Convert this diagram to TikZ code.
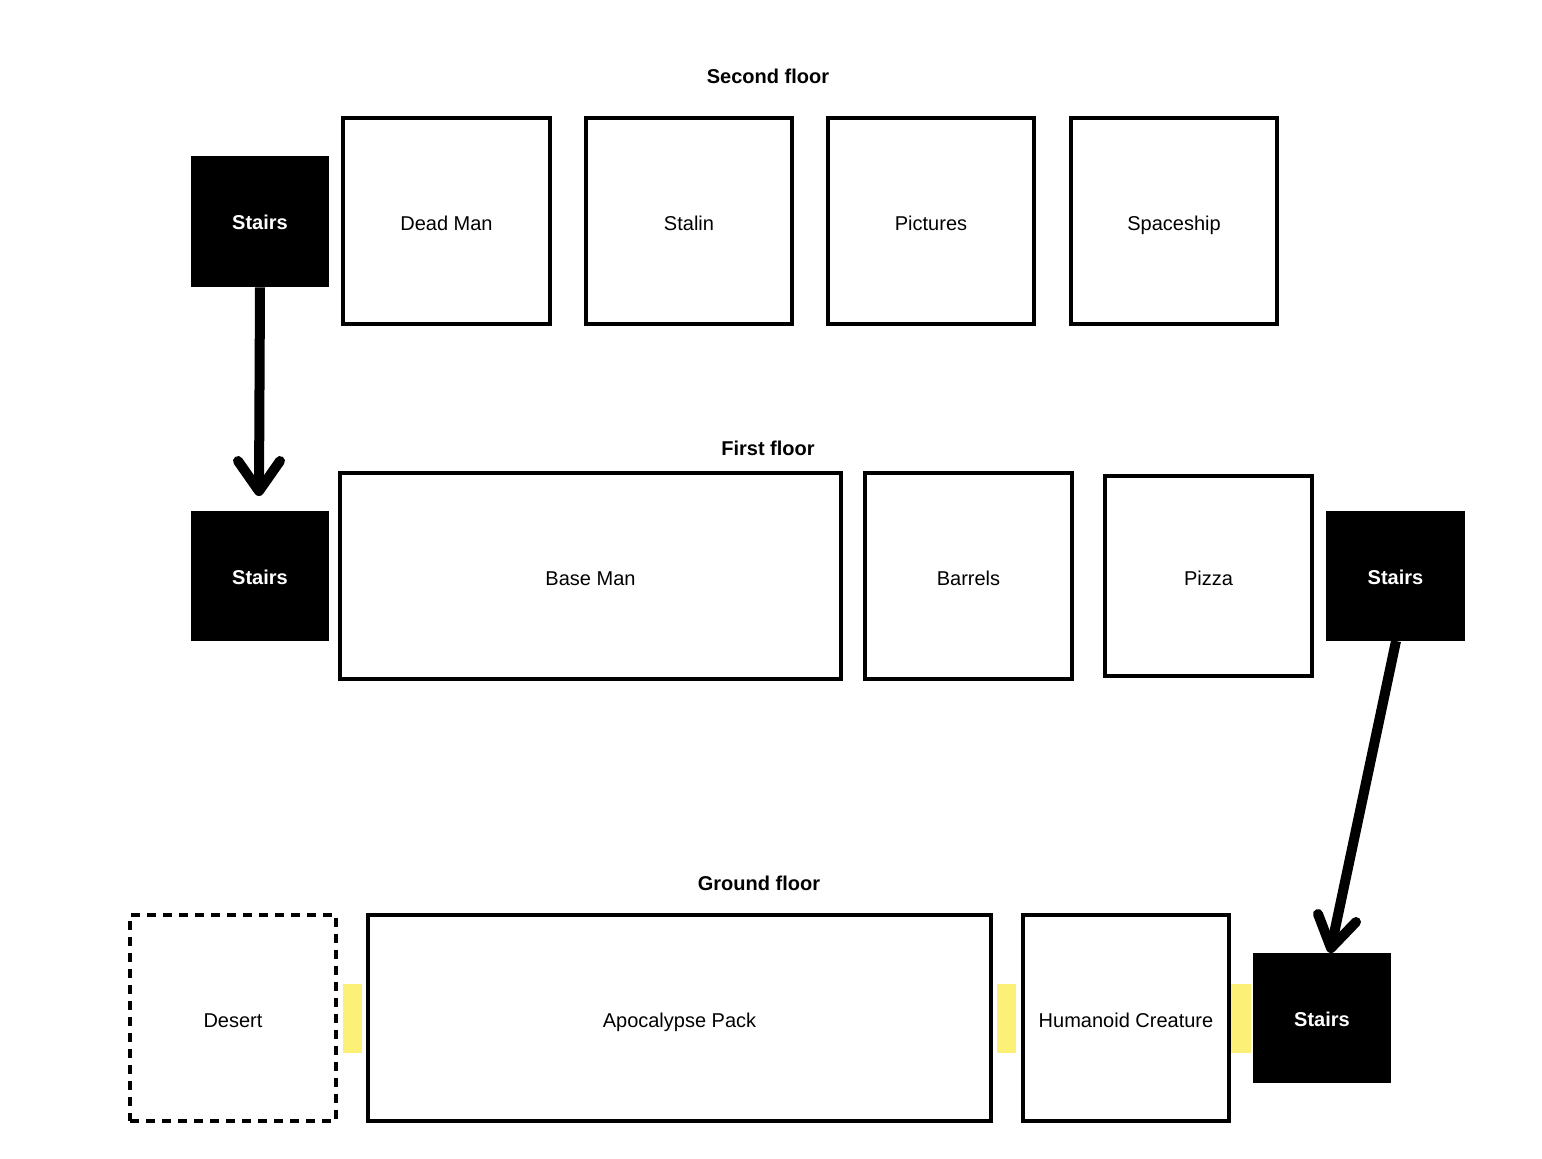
\documentclass[tikz,border=0pt]{standalone}
\usepackage{fontspec}
\setmainfont{Liberation Sans}
\usetikzlibrary{calc}
\definecolor{doorYellow}{RGB}{252,241,118}
\tikzset{
  room/.style={draw=black, line width=2.9pt, inner sep=0pt, font=\fontsize{15}{18}\selectfont, fill=white, text height=14pt, text depth=0pt},
  stairbox/.style={fill=black, draw=none, inner sep=0pt, text=white, font=\fontsize{15}{18}\selectfont\bfseries, text height=12pt, text depth=0pt},
  dashroom/.style={room, dash pattern=on 7pt off 5pt},
  door/.style={fill=doorYellow, draw=none, inner sep=0pt},
  floorlabel/.style={font=\fontsize{15}{18}\selectfont\bfseries, inner sep=0pt},
  sz/.style 2 args={minimum width=#1*0.75pt, minimum height=#2*0.75pt},
  flow/.style={line width=7.5pt, draw=black, line cap=butt},
  barb/.style={line width=7.5pt, draw=black, line cap=round, line join=round}
}
\begin{document}
\begin{tikzpicture}[x=0.75pt,y=-0.75pt]
\useasboundingbox (0,0) rectangle (1542,1158);
\fill[white] (0,0) rectangle (1542,1158);

% Second floor
\node[floorlabel] (lab2) at (768,76) {Second floor};
\node[stairbox, sz={138}{131}] (st1) at (260,221.5) {Stairs};
\node[room, sz={207}{206}] (deadman) at (446.5,221) {Dead Man};
\node[room, sz={206}{206}] (stalin) at (689,221) {Stalin};
\node[room, sz={206}{206}] (pictures) at (931,221) {Pictures};
\node[room, sz={206}{206}] (spaceship) at (1174,221) {Spaceship};

% First floor
\node[floorlabel] (lab1) at (768,448) {First floor};
\node[stairbox, sz={138}{130}] (st2) at (260,576) {Stairs};
\node[room, sz={501}{206}] (baseman) at (590.5,576) {Base Man};
\node[room, sz={207}{206}] (barrels) at (968.5,576) {Barrels};
\node[room, sz={207}{200}] (pizza) at (1208.5,576) {Pizza};
\node[stairbox, sz={139}{130}] (st3) at (1395.5,576) {Stairs};

% Ground floor
\node[floorlabel] (lab0) at (759,883) {Ground floor};
\node[dashroom, sz={206}{206}] (desert) at (233,1018) {Desert};
\node[room, sz={623}{206}] (apoc) at (679.5,1018) {Apocalypse Pack};
\node[room, sz={206}{206}] (humanoid) at (1126,1018) {Humanoid Creature};
\node[stairbox, sz={138}{130}] (st4) at (1322,1018) {Stairs};
\node[door, sz={19}{69}] (door1) at (352.5,1018.5) {};
\node[door, sz={19}{69}] (door2) at (1006.5,1018.5) {};
\node[door, sz={20}{69}] (door3) at (1241,1018.5) {};

% Arrow 1
\coordinate (tip1) at (259,491);
\draw[flow] (st1.south) -- (tip1);
\draw[barb] ($(tip1)+(-21,-30)$) -- (tip1) -- ($(tip1)+(21,-30)$);

% Arrow 2
\coordinate (tip2) at (1331,948);
\coordinate (src2) at (1396,641);
\draw[flow] (src2) -- (tip2);
\draw[barb] ($(tip2)+(-13,-34)$) -- (tip2) -- ($(tip2)+(25,-26)$);
\end{tikzpicture}
\end{document}
